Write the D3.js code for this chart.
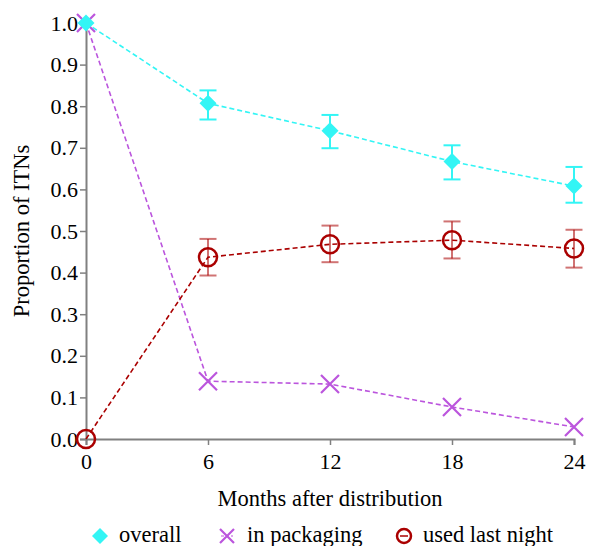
<!DOCTYPE html>
<html lang="en">
  <head>
    <meta charset="utf-8">
    <title>ITN proportions</title>
    <style>
      body { margin: 0; background: #fff; }
    </style>
  </head>
  <body>
  <script src="https://d3js.org/d3.v7.min.js"></script>
  <svg width="589" height="546"></svg>

  <script type="text/javascript">

    // months after distribution
    var months = [0, 6, 12, 18, 24];
    var yTicks = [0.0, 0.1, 0.2, 0.3, 0.4, 0.5, 0.6, 0.7, 0.8, 0.9, 1.0];

    var overall = [1.0, 0.807, 0.741, 0.667, 0.608];
    var overallLo = [null, 0.768, 0.699, 0.624, 0.568];
    var overallHi = [null, 0.838, 0.779, 0.706, 0.654];

    var packaging = [1.0, 0.139, 0.132, 0.077, 0.029];

    var usedNight = [0.0, 0.437, 0.468, 0.478, 0.458];
    var usedLo = [null, 0.393, 0.425, 0.434, 0.412];
    var usedHi = [null, 0.481, 0.513, 0.523, 0.503];

    var serif = "'Liberation Serif', Tinos, 'Times New Roman', 'DejaVu Serif', serif";

    var svg = d3.select("svg").style("font-family", serif);

    var x = d3.scaleLinear().domain([0, 24]).range([86, 574]);
    var y = d3.scaleLinear().domain([0, 1]).range([439, 23]);

    // axes
    var axisColor = "#808080";
    var xAxis = svg.append("g")
        .attr("transform", "translate(0,439)")
        .call(d3.axisBottom(x).tickValues(months).tickSize(6).tickPadding(8).tickFormat(d3.format("d")));
    var yAxis = svg.append("g")
        .attr("transform", "translate(86,0)")
        .call(d3.axisLeft(y).tickValues(yTicks).tickSize(6).tickPadding(2).tickFormat(d3.format(".1f")));

    [xAxis, yAxis].forEach(function (a) {
      a.attr("font-family", null);
      a.select(".domain").attr("stroke", axisColor).attr("stroke-width", 2);
      a.selectAll(".tick line").attr("stroke", axisColor).attr("stroke-width", 1.5);
      a.selectAll(".tick text").style("font-size", "22px").style("font-family", serif).attr("fill", "#000");
    });

    // axis titles
    svg.append("text")
        .attr("x", 330).attr("y", 506)
        .attr("text-anchor", "middle")
        .style("font-size", "22.5px")
        .text("Months after distribution");

    svg.append("text")
        .attr("transform", "translate(29,231) rotate(-90)")
        .attr("text-anchor", "middle")
        .style("font-size", "22.5px")
        .text("Proportion of ITNs");

    var line = d3.line()
        .x(function (d) { return x(d[0]); })
        .y(function (d) { return y(d[1]); });

    function zipVals(vals) {
      return months.map(function (m, i) { return [m, vals[i]]; });
    }

    function drawErrors(lo, hi, color, opacity) {
      var g = svg.append("g").attr("stroke", color).attr("stroke-width", 2).attr("stroke-opacity", opacity);
      months.forEach(function (m, i) {
        if (lo[i] == null) return;
        g.append("line").attr("x1", x(m)).attr("x2", x(m)).attr("y1", y(lo[i])).attr("y2", y(hi[i]));
        g.append("line").attr("x1", x(m) - 8.5).attr("x2", x(m) + 8.5).attr("y1", y(lo[i])).attr("y2", y(lo[i]));
        g.append("line").attr("x1", x(m) - 8.5).attr("x2", x(m) + 8.5).attr("y1", y(hi[i])).attr("y2", y(hi[i]));
      });
    }

    var cyan = "#33f5f5";
    var purple = "#bb55dd";
    var red = "#aa0000";

    // lines
    svg.append("path").datum(zipVals(packaging)).attr("d", line)
        .attr("fill", "none").attr("stroke", purple).attr("stroke-width", 1.6).attr("stroke-dasharray", "5,3");
    svg.append("path").datum(zipVals(usedNight)).attr("d", line)
        .attr("fill", "none").attr("stroke", red).attr("stroke-width", 1.6).attr("stroke-dasharray", "5,3");
    svg.append("path").datum(zipVals(overall)).attr("d", line)
        .attr("fill", "none").attr("stroke", cyan).attr("stroke-width", 1.6).attr("stroke-dasharray", "5,3");

    drawErrors(overallLo, overallHi, cyan, 1);
    drawErrors(usedLo, usedHi, red, 0.55);

    // markers
    function diamondPath(r) {
      return "M0," + (-r) + "L" + r + ",0L0," + r + "L" + (-r) + ",0Z";
    }

    function xMark(g, cx, cy, r) {
      g.append("path")
        .attr("d", "M" + (cx - r) + "," + (cy - r) + "L" + (cx + r) + "," + (cy + r) +
                   "M" + (cx - r) + "," + (cy + r) + "L" + (cx + r) + "," + (cy - r))
        .attr("stroke", purple).attr("stroke-width", 2.2).attr("fill", "none");
    }

    var pg = svg.append("g");
    months.forEach(function (m, i) { xMark(pg, x(m), y(packaging[i]), 9); });

    svg.append("g").selectAll("circle").data(zipVals(usedNight)).enter().append("circle")
        .attr("cx", function (d) { return x(d[0]); })
        .attr("cy", function (d) { return y(d[1]); })
        .attr("r", 9)
        .attr("fill", "none").attr("stroke", red).attr("stroke-width", 2.5);

    svg.append("g").selectAll("path").data(zipVals(overall)).enter().append("path")
        .attr("d", diamondPath(8.5))
        .attr("transform", function (d) { return "translate(" + x(d[0]) + "," + y(d[1]) + ")"; })
        .attr("fill", cyan);

    // legend
    var leg = svg.append("g");
    leg.append("path").attr("d", diamondPath(8))
        .attr("transform", "translate(100,536)").attr("fill", cyan);
    leg.append("text").attr("x", 119).attr("y", 542).style("font-size", "22.5px").text("overall");

    xMark(leg, 227, 536, 7);
    leg.append("line").attr("x1", 221).attr("x2", 233).attr("y1", 536).attr("y2", 536)
        .attr("stroke", purple).attr("stroke-width", 1.2).attr("stroke-dasharray", "3,2");
    leg.append("text").attr("x", 247).attr("y", 542).style("font-size", "22.5px").text("in packaging");

    leg.append("circle").attr("cx", 404).attr("cy", 536).attr("r", 7)
        .attr("fill", "none").attr("stroke", red).attr("stroke-width", 2.5);
    leg.append("line").attr("x1", 400).attr("x2", 408).attr("y1", 536).attr("y2", 536)
        .attr("stroke", red).attr("stroke-width", 1.5);
    leg.append("text").attr("x", 423).attr("y", 542).style("font-size", "22.5px").text("used last night");

  </script>
  </body>
</html>
